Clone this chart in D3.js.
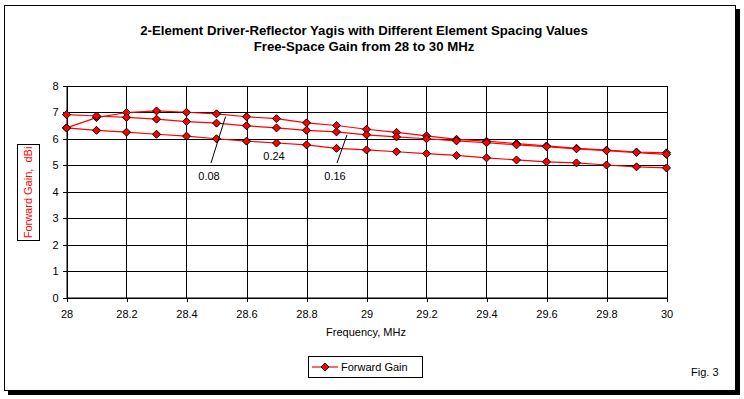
<!DOCTYPE html>
<html>
<head>
<meta charset="utf-8">
<script src="https://cdn.jsdelivr.net/npm/d3@7"></script>
<style>
  body { margin: 0; background: #fff; }
  svg { display: block; font-family: "Liberation Sans", Arial, sans-serif; }
</style>
</head>
<body>
<script>
// Chart data
var freqs = [28.0, 28.1, 28.2, 28.3, 28.4, 28.5, 28.6, 28.7, 28.8, 28.9, 29.0,
             29.1, 29.2, 29.3, 29.4, 29.5, 29.6, 29.7, 29.8, 29.9, 30.0];
var gain008 = [6.40, 6.79, 6.98, 7.04, 6.99, 6.93, 6.82, 6.75, 6.59, 6.49, 6.35,
               6.23, 6.10, 5.97, 5.90, 5.81, 5.72, 5.63, 5.56, 5.49, 5.46];
var gain016 = [6.90, 6.85, 6.80, 6.73, 6.64, 6.58, 6.48, 6.40, 6.31, 6.25, 6.14,
               6.06, 5.99, 5.91, 5.84, 5.76, 5.69, 5.61, 5.54, 5.47, 5.40];
var gain024 = [6.40, 6.31, 6.24, 6.16, 6.09, 5.99, 5.90, 5.83, 5.76, 5.63, 5.57,
               5.50, 5.43, 5.36, 5.27, 5.19, 5.12, 5.08, 5.00, 4.93, 4.89];
var xTicks = [28, 28.2, 28.4, 28.6, 28.8, 29, 29.2, 29.4, 29.6, 29.8, 30];
var yTicks = [0, 1, 2, 3, 4, 5, 6, 7, 8];
var titleLines = ["2-Element Driver-Reflector Yagis with Different Element Spacing Values",
                  "Free-Space Gain from 28 to 30 MHz"];

var W = 744, H = 399;
var svg = d3.select("body").append("svg")
    .attr("width", W)
    .attr("height", H);

// marker shape: square diamond like the spreadsheet marker
var diamond = "M0,-4L4,0L0,4L-4,0Z";

// outer frame with shadow
svg.append("rect").attr("x", 8).attr("y", 9).attr("width", 732).attr("height", 386).attr("fill", "#000");
svg.append("rect").attr("x", 4.5).attr("y", 5.5).attr("width", 731).attr("height", 385)
    .attr("fill", "#fff").attr("stroke", "#000").attr("stroke-width", 1);

// titles
svg.selectAll(".title")
    .data(titleLines)
    .enter().append("text")
    .attr("x", 364)
    .attr("y", function(d, i) { return 35 + i * 16; })
    .attr("text-anchor", "middle")
    .style("font-size", "13.2px")
    .style("font-weight", "bold")
    .text(function(d) { return d; });

// plot area
var x0 = 66.5, x1 = 666.5, y0 = 297.5, y1 = 85.5;
var x = d3.scaleLinear().domain([28, 30]).range([x0, x1]);
var y = d3.scaleLinear().domain([0, 8]).range([y0, y1]);

var g = svg.append("g");

// gridlines
g.selectAll(".vgrid").data(xTicks).enter().append("line")
    .attr("x1", function(d) { return Math.round(x(d)) + 0.5; })
    .attr("x2", function(d) { return Math.round(x(d)) + 0.5; })
    .attr("y1", y1).attr("y2", y0)
    .attr("stroke", "#000").attr("stroke-width", 1)
    .attr("shape-rendering", "crispEdges");
g.selectAll(".hgrid").data(yTicks).enter().append("line")
    .attr("x1", x0).attr("x2", x1)
    .attr("y1", function(d) { return Math.round(y(d)) + 0.5; })
    .attr("y2", function(d) { return Math.round(y(d)) + 0.5; })
    .attr("stroke", "#000").attr("stroke-width", 1)
    .attr("shape-rendering", "crispEdges");

// axes
var xAxis = d3.axisBottom(x).tickValues(xTicks).tickSize(4).tickSizeOuter(0)
    .tickFormat(function(d) { return d3.format("")(+d.toFixed(1)); });
var gx = g.append("g").attr("transform", "translate(0," + y0 + ")").call(xAxis);
gx.select(".domain").attr("stroke", "#000");
gx.selectAll("text").attr("dy", "0").attr("y", 20).style("font-size", "11px").attr("fill", "#000");

var yAxis = d3.axisLeft(y).tickValues(yTicks).tickSize(4).tickSizeOuter(0);
var gy = g.append("g").attr("transform", "translate(" + x0 + ",0)").call(yAxis);
gy.select(".domain").attr("stroke", "#000");
gy.selectAll("text").attr("x", -8).style("font-size", "11px").attr("fill", "#000");

svg.selectAll(".tick line").attr("shape-rendering", "crispEdges");

// series
var line = d3.line()
    .x(function(d) { return x(d[0]); })
    .y(function(d) { return y(d[1]); });

var seriesList = [gain008, gain016, gain024];
seriesList.forEach(function(vals) {
    var pts = freqs.map(function(f, i) { return [f, vals[i]]; });
    g.append("path").datum(pts)
        .attr("d", line)
        .attr("fill", "none")
        .attr("stroke", "#ff0000")
        .attr("stroke-width", 1.2);
    g.selectAll(null).data(pts).enter().append("path")
        .attr("transform", function(d) { return "translate(" + x(d[0]) + "," + y(d[1]) + ")"; })
        .attr("d", diamond)
        .attr("fill", "#ff0000")
        .attr("stroke", "#000")
        .attr("stroke-width", 1);
});

// spacing labels with leader lines
var labels = [
    {t: "0.08", f: 28.53, v: gain008, tx: 209, ty: 180},
    {t: "0.24", f: null, tx: 274, ty: 160},
    {t: "0.16", f: 28.935, v: gain016, tx: 335, ty: 180}
];
labels.forEach(function(l) {
    if (l.f) {
        var i = Math.floor((l.f - 28) / 0.1 + 1e-6);
        var fr = (l.f - freqs[i]) / 0.1;
        var yv = l.v[i] + (l.v[i + 1] - l.v[i]) * fr;
        svg.append("line")
            .attr("x1", l.tx + 2).attr("y1", 163)
            .attr("x2", x(l.f)).attr("y2", y(yv) + 2)
            .attr("stroke", "#000").attr("stroke-width", 1);
    }
    svg.append("text").attr("x", l.tx).attr("y", l.ty)
        .attr("text-anchor", "middle")
        .style("font-size", "11px")
        .text(l.t);
});

// axis titles
svg.append("text").attr("x", 366).attr("y", 336)
    .attr("text-anchor", "middle").style("font-size", "11px")
    .text("Frequency, MHz");

svg.append("rect").attr("x", 17.5).attr("y", 144.5).attr("width", 22).attr("height", 96)
    .attr("fill", "#fff").attr("stroke", "#000");
svg.append("text")
    .attr("transform", "translate(32,192.5) rotate(-90)")
    .attr("text-anchor", "middle").style("font-size", "11px")
    .style("white-space", "pre")
    .attr("fill", "#ff0000")
    .text("Forward Gain,  dBi");

// legend
var lg = svg.append("g");
lg.append("rect").attr("x", 308.5).attr("y", 356.5).attr("width", 114).attr("height", 21)
    .attr("fill", "#fff").attr("stroke", "#000");
lg.append("line").attr("x1", 312).attr("x2", 338).attr("y1", 367).attr("y2", 367)
    .attr("stroke", "#ff0000").attr("stroke-width", 1.2);
lg.append("path").attr("transform", "translate(325,367)")
    .attr("d", diamond)
    .attr("fill", "#ff0000").attr("stroke", "#000");
lg.append("text").attr("x", 341).attr("y", 371).style("font-size", "11px").text("Forward Gain");

svg.append("text").attr("x", 691).attr("y", 376).style("font-size", "11px").text("Fig. 3");
</script>
</body>
</html>
